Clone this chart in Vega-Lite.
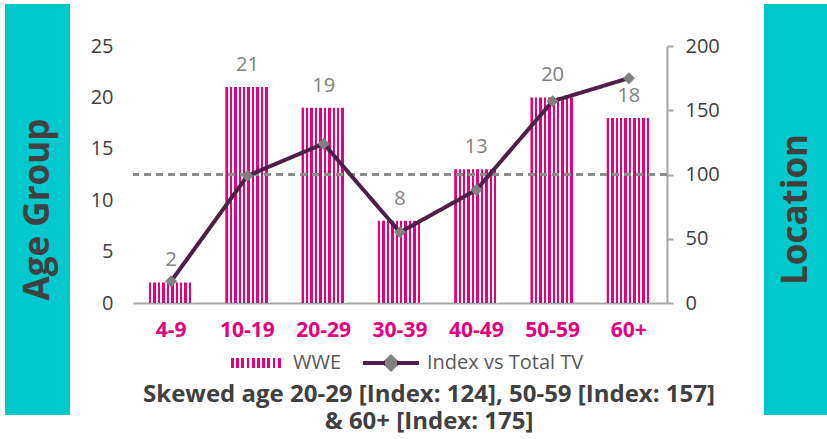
{
  "$schema": "https://vega.github.io/schema/vega-lite/v6.json",
  "background": "#ffffff",
  "padding": {"left": 5, "top": 4, "right": 0, "bottom": 10},
  "config": {
    "font": "Open Sans",
    "view": {"stroke": null},
    "legend": {"layout": {"bottom": {"anchor": "middle", "margin": 39}}}
  },
  "spacing": 20,
  "resolve": {"scale": {"opacity": "independent", "strokeDash": "independent"}},
  "hconcat": [
    {
      "width": 65,
      "height": 411,
      "view": {"fill": "#00c8cc", "stroke": null},
      "data": {"values": [{"label": "Age Group"}]},
      "mark": {"type": "text", "angle": 270, "fontSize": 35, "fontWeight": "bold", "color": "#404040"},
      "encoding": {"text": {"field": "label"}}
    },
    {
      "spacing": 44,
      "resolve": {"scale": {"opacity": "independent", "strokeDash": "independent"}},
      "hconcat": [
        {
          "width": 534,
          "height": 299,
          "data": {"values": [
            {"age": "4-9", "wwe": 2, "index": 17},
            {"age": "10-19", "wwe": 21, "index": 99},
            {"age": "20-29", "wwe": 19, "index": 124},
            {"age": "30-39", "wwe": 8, "index": 55},
            {"age": "40-49", "wwe": 13, "index": 88},
            {"age": "50-59", "wwe": 20, "index": 157},
            {"age": "60+", "wwe": 18, "index": 175}
          ]},
          "title": {
            "text": ["Skewed age 20-29 [Index: 124], 50-59 [Index: 157]", "& 60+ [Index: 175]"],
            "orient": "bottom",
            "anchor": "middle",
            "frame": "group",
            "dx": 29,
            "offset": 5,
            "fontSize": 24,
            "fontWeight": "bold",
            "color": "#404040",
            "lineHeight": 27
          },
          "layer": [
            {
              "encoding": {
                "y": {
                  "field": "wwe",
                  "type": "quantitative",
                  "scale": {"domain": [0, 25], "range": [299, 42], "nice": false, "zero": true},
                  "axis": {
                    "orient": "left", "title": null, "values": [0, 5, 10, 15, 20, 25],
                    "domain": false, "ticks": false, "tickSize": 0, "grid": false,
                    "labelPadding": 20, "labelFontSize": 20, "labelColor": "#404040"
                  }
                }
              },
              "layer": [
                {
                  "mark": {
                    "type": "bar",
                    "fill": {
                      "gradient": "linear", "x1": 0, "y1": 0, "x2": 1, "y2": 0,
                      "stops": [
                        {"offset": 0, "color": "#e6007e"}, {"offset": 0.055, "color": "#e6007e"}, {"offset": 0.055, "color": "#ffffff"}, {"offset": 0.1, "color": "#ffffff"},
                        {"offset": 0.1, "color": "#e6007e"}, {"offset": 0.155, "color": "#e6007e"}, {"offset": 0.155, "color": "#ffffff"}, {"offset": 0.2, "color": "#ffffff"},
                        {"offset": 0.2, "color": "#e6007e"}, {"offset": 0.255, "color": "#e6007e"}, {"offset": 0.255, "color": "#ffffff"}, {"offset": 0.3, "color": "#ffffff"},
                        {"offset": 0.3, "color": "#e6007e"}, {"offset": 0.355, "color": "#e6007e"}, {"offset": 0.355, "color": "#ffffff"}, {"offset": 0.4, "color": "#ffffff"},
                        {"offset": 0.4, "color": "#e6007e"}, {"offset": 0.455, "color": "#e6007e"}, {"offset": 0.455, "color": "#ffffff"}, {"offset": 0.5, "color": "#ffffff"},
                        {"offset": 0.5, "color": "#e6007e"}, {"offset": 0.555, "color": "#e6007e"}, {"offset": 0.555, "color": "#ffffff"}, {"offset": 0.6, "color": "#ffffff"},
                        {"offset": 0.6, "color": "#e6007e"}, {"offset": 0.655, "color": "#e6007e"}, {"offset": 0.655, "color": "#ffffff"}, {"offset": 0.7, "color": "#ffffff"},
                        {"offset": 0.7, "color": "#e6007e"}, {"offset": 0.755, "color": "#e6007e"}, {"offset": 0.755, "color": "#ffffff"}, {"offset": 0.8, "color": "#ffffff"},
                        {"offset": 0.8, "color": "#e6007e"}, {"offset": 0.855, "color": "#e6007e"}, {"offset": 0.855, "color": "#ffffff"}, {"offset": 0.9, "color": "#ffffff"},
                        {"offset": 0.9, "color": "#e6007e"}, {"offset": 0.955, "color": "#e6007e"}, {"offset": 0.955, "color": "#ffffff"}, {"offset": 1, "color": "#ffffff"}
                      ]
                    }
                  },
                  "encoding": {
                    "x": {
                      "field": "age", "type": "nominal", "sort": null,
                      "scale": {"paddingInner": 0.42, "paddingOuter": 0.21},
                      "axis": {
                        "title": null, "labelAngle": 0, "labelColor": "#e6007e", "labelFontWeight": "bold",
                        "labelFontSize": 21, "labelPadding": 16, "ticks": false, "tickSize": 0,
                        "domainColor": "#a6a6a6", "domainWidth": 2
                      }
                    },
                    "opacity": {
                      "datum": "WWE",
                      "scale": {"type": "ordinal", "domain": ["WWE"], "range": [1]},
                      "legend": {
                        "orient": "bottom", "direction": "horizontal", "title": null, "offset": 13, "padding": 0,
                        "labelFontSize": 20, "labelColor": "#595959", "labelOffset": 26, "symbolOffset": 30,
                        "symbolType": "M-5.2,-1H5.2V1H-5.2Z", "symbolSize": 100, "symbolStrokeWidth": 0
                      }
                    }
                  }
                },
                {
                  "mark": {"type": "text", "baseline": "alphabetic", "dy": -16, "fontSize": 20, "color": "#808080"},
                  "encoding": {
                    "x": {"field": "age", "type": "nominal", "sort": null},
                    "text": {"field": "wwe", "type": "quantitative"}
                  }
                }
              ]
            },
            {
              "encoding": {
                "y": {
                  "field": "index",
                  "type": "quantitative",
                  "scale": {"domain": [0, 200], "range": [299, 42], "nice": false, "zero": true},
                  "axis": {
                    "orient": "right", "title": null, "values": [0, 50, 100, 150, 200],
                    "domain": true, "domainColor": "#a6a6a6", "domainWidth": 2,
                    "ticks": true, "tickColor": "#a6a6a6", "tickWidth": 2, "tickSize": 6,
                    "grid": false, "labelPadding": 12, "labelFontSize": 20, "labelColor": "#404040"
                  }
                }
              },
              "layer": [
                {
                  "mark": {"type": "rule", "strokeDash": [7, 5], "strokeWidth": 2, "color": "#8c8c8c"},
                  "encoding": {"y": {"datum": 100}}
                },
                {
                  "mark": {"type": "line", "strokeWidth": 4, "color": "#4d2147"},
                  "encoding": {
                    "x": {"field": "age", "type": "nominal", "sort": null},
                    "strokeDash": {
                      "datum": "Index vs Total TV",
                      "scale": {"domain": ["Index vs Total TV"], "range": [[1, 0]]},
                      "legend": {
                        "orient": "bottom", "direction": "horizontal", "title": null, "offset": 13, "padding": 0,
                        "labelFontSize": 20, "labelColor": "#595959", "labelOffset": 26,
                        "symbolType": "M-5.6,0H5.6M0,-1.25L1.25,0L0,1.25L-1.25,0Z", "symbolSize": 100,
                        "symbolStrokeWidth": 4, "symbolFillColor": "#808080",
                        "symbolStrokeColor": {"value": {
                          "gradient": "linear", "x1": 0, "y1": 0, "x2": 1, "y2": 0,
                          "stops": [
                            {"offset": 0, "color": "#4d2147"}, {"offset": 0.388, "color": "#4d2147"},
                            {"offset": 0.388, "color": "#808080"}, {"offset": 0.612, "color": "#808080"},
                            {"offset": 0.612, "color": "#4d2147"}, {"offset": 1, "color": "#4d2147"}
                          ]
                        }}
                      }
                    }
                  }
                },
                {
                  "mark": {"type": "point", "shape": "diamond", "filled": true, "size": 144, "color": "#808080", "opacity": 1},
                  "encoding": {"x": {"field": "age", "type": "nominal", "sort": null}}
                }
              ]
            }
          ],
          "resolve": {"scale": {"y": "independent"}}
        },
        {
          "width": 63,
          "height": 411,
          "view": {"fill": "#00c8cc", "stroke": null},
          "data": {"values": [{"label": "Location"}]},
          "mark": {"type": "text", "angle": 270, "fontSize": 35, "fontWeight": "bold", "color": "#404040"},
          "encoding": {"text": {"field": "label"}}
        }
      ]
    }
  ]
}
